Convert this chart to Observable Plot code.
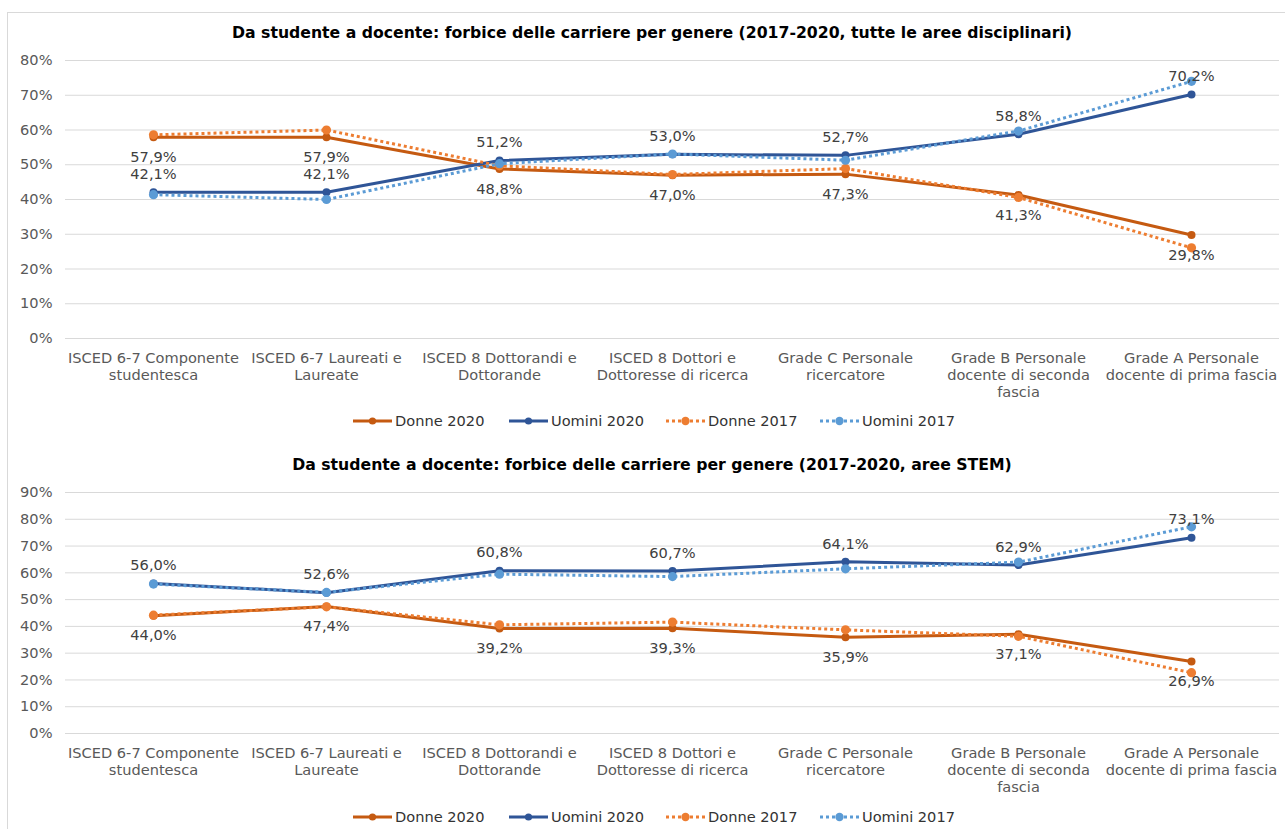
<!DOCTYPE html>
<html>
<head>
<meta charset="utf-8">
<script src="https://cdn.jsdelivr.net/npm/d3@7"></script>
<script src="https://cdn.jsdelivr.net/npm/@observablehq/plot@0.6"></script>
<style>
  html, body { margin: 0; padding: 0; background: #fff; }
  body { width: 1285px; height: 829px; position: relative; overflow: hidden; font-family: "DejaVu Sans", Verdana, sans-serif; }
  .frame { position: absolute; left: 7px; top: 12px; width: 1320px; height: 860px; border: 1px solid #d9d9d9; box-sizing: border-box; }
  .title { position: absolute; left: 0; width: 1304px; text-align: center; font-weight: bold; font-size: 15.7px; line-height: 20px; color: #000; white-space: nowrap; }
  .chart { position: absolute; left: 0; }
  .legend { position: absolute; left: 0; width: 1285px; height: 20px; }
</style>
</head>
<body>
<div class="frame"></div>
<script>
const categories = [
  "ISCED 6-7 Componente studentesca",
  "ISCED 6-7 Laureati e Laureate",
  "ISCED 8 Dottorandi e Dottorande",
  "ISCED 8 Dottori e Dottoresse di ricerca",
  "Grade C Personale ricercatore",
  "Grade B Personale docente di seconda fascia",
  "Grade A Personale docente di prima fascia"
];
const tickLabels = [
  "ISCED 6-7 Componente\nstudentesca",
  "ISCED 6-7 Laureati e\nLaureate",
  "ISCED 8 Dottorandi e\nDottorande",
  "ISCED 8 Dottori e\nDottoresse di ricerca",
  "Grade C Personale\nricercatore",
  "Grade B Personale\ndocente di seconda\nfascia",
  "Grade A Personale\ndocente di prima fascia"
];
const seriesNames = ["Donne 2020", "Uomini 2020", "Donne 2017", "Uomini 2017"];
const seriesColors = ["#C55A11", "#2F5597", "#ED7D31", "#5B9BD5"];
const seriesDotted = [false, false, true, true];

// Chart 1: tutte le aree disciplinari (%)
const allDonne2020  = [57.9, 57.9, 48.8, 47.0, 47.3, 41.3, 29.8];
const allUomini2020 = [42.1, 42.1, 51.2, 53.0, 52.7, 58.8, 70.2];
const allDonne2017  = [58.6, 60.0, 49.7, 47.2, 48.9, 40.6, 26.1];
const allUomini2017 = [41.4, 40.0, 50.3, 53.1, 51.3, 59.7, 74.0];

// Chart 2: aree STEM (%)
const stemDonne2020  = [44.0, 47.4, 39.2, 39.3, 35.9, 37.1, 26.9];
const stemUomini2020 = [56.0, 52.6, 60.8, 60.7, 64.1, 62.9, 73.1];
const stemDonne2017  = [44.2, 47.3, 40.6, 41.6, 38.7, 36.3, 22.7];
const stemUomini2017 = [55.8, 52.7, 59.5, 58.6, 61.5, 64.0, 77.2];

const yTicks1 = [0, 10, 20, 30, 40, 50, 60, 70, 80];
const yTicks2 = [0, 10, 20, 30, 40, 50, 60, 70, 80, 90];

const title1 = "Da studente a docente: forbice delle carriere per genere (2017-2020, tutte le aree disciplinari)";
const title2 = "Da studente a docente: forbice delle carriere per genere (2017-2020, aree STEM)";

const fmt = v => v.toFixed(1).replace(".", ",") + "%";
const FONT = "DejaVu Sans, Verdana, sans-serif";
const FS = 14.6;

function makeChart(seriesValues, yTicks, height) {
  const rows = [];
  seriesValues.forEach((vals, s) => vals.forEach((v, i) => rows.push({cat: categories[i], series: seriesNames[s], s, value: v})));
  const marks = [
    Plot.gridY(yTicks, {stroke: "#d9d9d9", strokeOpacity: 1, strokeWidth: 1}),
    Plot.axisY(yTicks, {tickSize: 0, tickPadding: 13, tickFormat: d => d + "%", fontSize: FS, color: "#595959", label: null}),
    Plot.axisX({tickSize: 0, tickPadding: 12, tickFormat: d => tickLabels[categories.indexOf(d)], fontSize: FS, color: "#595959", lineHeight: 1.18, label: null})
  ];
  seriesNames.forEach((name, s) => {
    const d = rows.filter(r => r.s === s);
    marks.push(Plot.line(d, {x: "cat", y: "value", stroke: seriesColors[s], strokeWidth: 3,
      strokeDasharray: seriesDotted[s] ? "3,3" : null, strokeLinecap: seriesDotted[s] ? "butt" : "round"}));
    marks.push(Plot.dot(d, {x: "cat", y: "value", r: seriesDotted[s] ? 4.6 : 4, fill: seriesColors[s], stroke: "none"}));
  });
  // data labels: Donne 2020 below, Uomini 2020 above
  marks.push(Plot.text(rows.filter(r => r.s === 0), {x: "cat", y: "value", text: d => fmt(d.value), dy: 20, fontSize: FS, fill: "#404040"}));
  marks.push(Plot.text(rows.filter(r => r.s === 1), {x: "cat", y: "value", text: d => fmt(d.value), dy: -18, fontSize: FS, fill: "#404040"}));
  return Plot.plot({
    width: 1285, height,
    marginLeft: 65, marginRight: 6, marginTop: 15, marginBottom: 65,
    style: {fontFamily: FONT, fontSize: FS + "px", background: "transparent"},
    x: {type: "point", domain: categories, padding: 0.5, label: null},
    y: {domain: [0, yTicks[yTicks.length - 1]], label: null},
    marks
  });
}

function makeLegend(top) {
  const ns = "http://www.w3.org/2000/svg";
  const svg = document.createElementNS(ns, "svg");
  svg.setAttribute("class", "legend");
  svg.setAttribute("width", 1285); svg.setAttribute("height", 20);
  svg.style.top = (top - 10) + "px";
  svg.style.fontFamily = FONT;
  const starts = [353, 509, 666, 820];
  seriesNames.forEach((name, s) => {
    const x0 = starts[s];
    const line = document.createElementNS(ns, "line");
    line.setAttribute("x1", x0); line.setAttribute("x2", x0 + 39);
    line.setAttribute("y1", 10); line.setAttribute("y2", 10);
    line.setAttribute("stroke", seriesColors[s]); line.setAttribute("stroke-width", 3);
    if (seriesDotted[s]) line.setAttribute("stroke-dasharray", "3,3");
    svg.appendChild(line);
    const c = document.createElementNS(ns, "circle");
    c.setAttribute("cx", x0 + 19.5); c.setAttribute("cy", 10); c.setAttribute("r", seriesDotted[s] ? 4.2 : 3.6);
    c.setAttribute("fill", seriesColors[s]);
    svg.appendChild(c);
    const t = document.createElementNS(ns, "text");
    t.setAttribute("x", x0 + 42); t.setAttribute("y", 10);
    t.setAttribute("dy", "0.35em"); t.setAttribute("font-size", FS); t.setAttribute("fill", "#333333");
    t.textContent = name;
    svg.appendChild(t);
  });
  return svg;
}

function addTitle(text, centerY) {
  const div = document.createElement("div");
  div.className = "title";
  div.style.top = (centerY - 10) + "px";
  div.textContent = text;
  document.body.appendChild(div);
}

addTitle(title1, 33);
const c1 = makeChart([allDonne2020, allUomini2020, allDonne2017, allUomini2017], yTicks1, 358);
c1.classList.add("chart"); c1.style.top = "45px"; c1.style.position = "absolute";
document.body.appendChild(c1);
document.body.appendChild(makeLegend(421));

addTitle(title2, 465);
const c2 = makeChart([stemDonne2020, stemUomini2020, stemDonne2017, stemUomini2017], yTicks2, 321);
c2.classList.add("chart"); c2.style.top = "477px"; c2.style.position = "absolute";
document.body.appendChild(c2);
document.body.appendChild(makeLegend(817));
</script>
</body>
</html>
